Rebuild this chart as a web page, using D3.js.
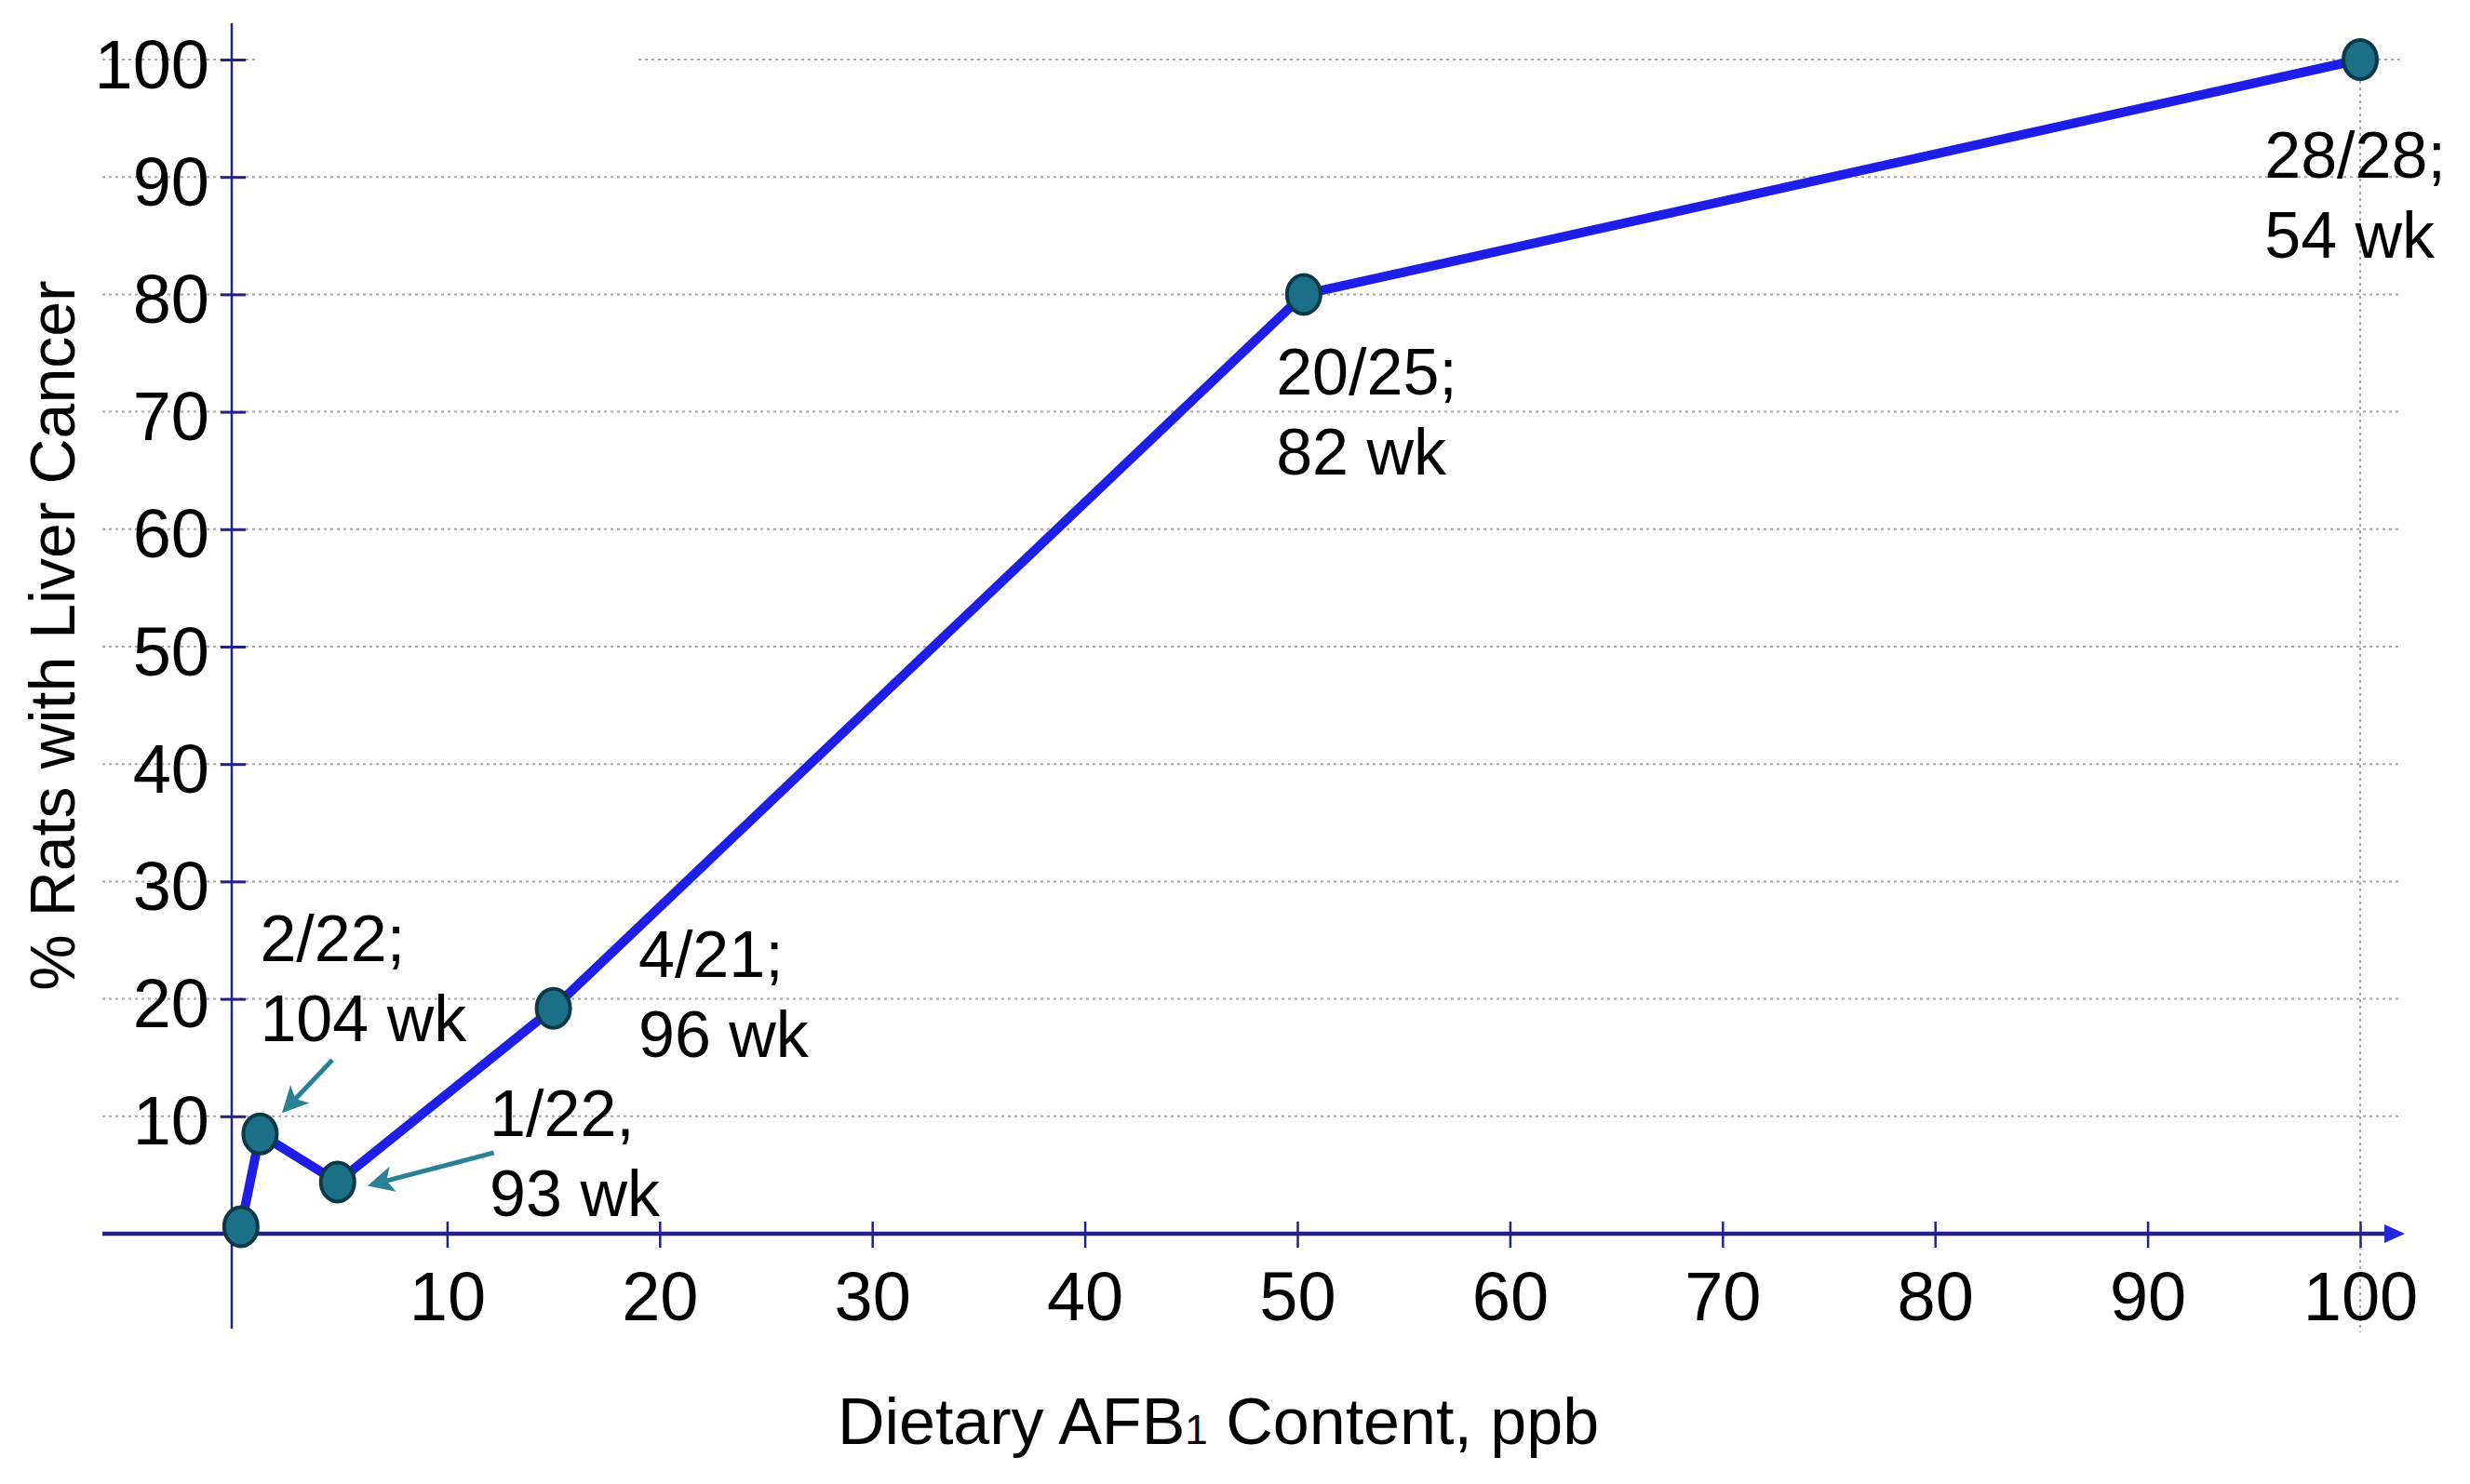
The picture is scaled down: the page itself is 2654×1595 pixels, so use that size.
<!DOCTYPE html>
<html><head><meta charset="utf-8">
<script src="https://cdn.jsdelivr.net/npm/d3@7"></script>
<style>
body{margin:0;background:#fff}
svg{display:block}
text{font-family:"Liberation Sans",Arial,sans-serif;fill:#000}
</style>
</head><body>
<svg id="chart" width="2654" height="1595"></svg>
<script>
// ---- data ----
const doses = [0.3, 1.2, 4.85, 15, 50.3, 100];        // Dietary AFB1, ppb
const incidence = [0.6, 8.5, 4.4, 19.2, 80, 100];     // % rats with liver cancer
const xTicks = [10, 20, 30, 40, 50, 60, 70, 80, 90, 100];
const yTicks = [10, 20, 30, 40, 50, 60, 70, 80, 90, 100];
const labelLines = [["2/22;", "104 wk"], ["1/22,", "93 wk"], ["4/21;", "96 wk"], ["20/25;", "82 wk"], ["28/28;", "54 wk"]];
const labelX = [1.2, 12.0, 19.0, 49.0, 95.5];
const labelY = [23.2, 8.3, 21.9, 71.5, 89.9];
const arrowFrom = [[4.6, 14.8], [12.2, 6.9]];
const arrowTo = [[2.4, 10.6], [6.5, 4.2]];
const xTitle = "Dietary AFB";
const xTitleSub = "1";
const xTitleRest = " Content, ppb";
const yTitle = "% Rats with Liver Cancer";

// ---- layout ----
const svg = d3.select("#chart");
const x = d3.scaleLinear().domain([0, 100]).range([252, 2536]);
const y = d3.scaleLinear().domain([0, 100]).range([1326, 64]);

const gridColor = "#a8a8a8";
const axisColor = "#22228a";

// defs
const defs = svg.append("defs");
defs.append("marker").attr("id", "tealHead").attr("viewBox", "0 0 10 10")
  .attr("refX", 8).attr("refY", 5).attr("markerWidth", 30).attr("markerHeight", 28)
  .attr("orient", "auto").attr("markerUnits", "userSpaceOnUse")
  .append("path").attr("d", "M0,0 L10,5 L0,10 L2.5,5 Z").attr("fill", "#2a8196");

// horizontal gridlines
const gl = svg.append("g");
yTicks.forEach(v => {
  if (v === 100) {
    gl.append("line").attr("x1", 110).attr("x2", 278).attr("y1", y(v)).attr("y2", y(v));
    gl.append("line").attr("x1", 686).attr("x2", 2581).attr("y1", y(v)).attr("y2", y(v));
  } else {
    gl.append("line").attr("x1", 110).attr("x2", 2581).attr("y1", y(v)).attr("y2", y(v));
  }
});
// vertical gridline at 100
gl.append("line").attr("x1", x(100)).attr("x2", x(100)).attr("y1", 45).attr("y2", 1432);
gl.selectAll("line").attr("stroke", gridColor).attr("stroke-width", 2).attr("stroke-dasharray", "3,4");

// y axis
const yAxis = svg.append("g").attr("transform", `translate(${x(0) - 3},0)`)
  .call(d3.axisLeft(y).tickValues(yTicks).tickSize(0).tickFormat(""));
yAxis.select(".domain").remove();
yAxis.append("line").attr("x1", 0).attr("x2", 0).attr("y1", 25).attr("y2", 1428)
  .attr("stroke", axisColor).attr("stroke-width", 2.5);
yAxis.selectAll(".tick").append("line").attr("x1", -12).attr("x2", 15)
  .attr("stroke", axisColor).attr("stroke-width", 3);
yAxis.selectAll(".tick").append("text").attr("x", -24).attr("y", 30)
  .attr("text-anchor", "end").attr("font-size", 74).text(d => d);

// x axis
const xAxis = svg.append("g").attr("transform", `translate(0,${y(0)})`)
  .call(d3.axisBottom(x).tickValues(xTicks).tickSize(0).tickFormat(""));
xAxis.select(".domain").remove();
xAxis.append("line").attr("x1", 110).attr("x2", 2566).attr("y1", 0).attr("y2", 0)
  .attr("stroke", axisColor).attr("stroke-width", 4.5);
xAxis.append("path").attr("d", "M2562,-10 L2584,0 L2562,10 Z").attr("fill", "#2424e0");
xAxis.selectAll(".tick").append("line").attr("y1", -13).attr("y2", 15)
  .attr("stroke", axisColor).attr("stroke-width", 2.5);
xAxis.selectAll(".tick").append("text").attr("y", 93)
  .attr("text-anchor", "middle").attr("font-size", 74).text(d => d);

// line
const pts = doses.map((d, i) => [d, incidence[i]]);
svg.append("path").datum(pts)
  .attr("d", d3.line().x(d => x(d[0])).y(d => y(d[1])))
  .attr("fill", "none").attr("stroke", "#1e1ee8").attr("stroke-width", 10)
  .attr("stroke-linejoin", "round");

// markers
svg.append("g").selectAll("ellipse").data(pts).join("ellipse")
  .attr("cx", d => x(d[0])).attr("cy", d => y(d[1]))
  .attr("rx", 18).attr("ry", 21)
  .attr("fill", "#1b6f86").attr("stroke", "#0c3847").attr("stroke-width", 4);

// arrows
svg.append("g").selectAll("line").data(arrowFrom).join("line")
  .attr("x1", d => x(d[0])).attr("y1", d => y(d[1]))
  .attr("x2", (d, i) => x(arrowTo[i][0])).attr("y2", (d, i) => y(arrowTo[i][1]))
  .attr("stroke", "#2a8196").attr("stroke-width", 5)
  .attr("marker-end", "url(#tealHead)");

// annotation labels
const lab = svg.append("g").selectAll("text").data(labelLines).join("text")
  .attr("font-size", 70)
  .attr("x", (d, i) => x(labelX[i])).attr("y", (d, i) => y(labelY[i]));
lab.each(function (d, i) {
  const t = d3.select(this);
  d.forEach((line, j) => {
    t.append("tspan").attr("x", x(labelX[i])).attr("dy", j === 0 ? 0 : 86).text(line);
  });
});

// axis titles
const xt = svg.append("text").attr("x", 1309).attr("y", 1552).attr("text-anchor", "middle")
  .attr("font-size", 70);
xt.append("tspan").text(xTitle);
xt.append("tspan").attr("font-size", 44).text(xTitleSub);
xt.append("tspan").text(xTitleRest);

svg.append("text").attr("transform", "translate(80,683) rotate(-90)")
  .attr("text-anchor", "middle").attr("font-size", 68).text(yTitle);
</script>
</body></html>
